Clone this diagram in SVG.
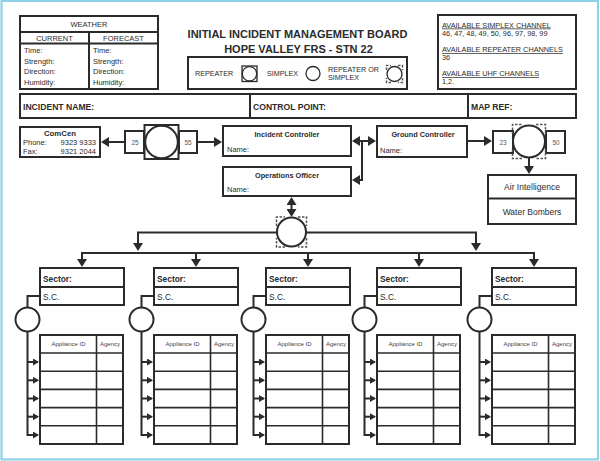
<svg xmlns="http://www.w3.org/2000/svg" width="600" height="461" viewBox="0 0 600 461">
<style>
.b{fill:#fff;stroke:#2b2b2b;stroke-width:2}
.l{fill:none;stroke:#2b2b2b;stroke-width:2}
.tl{fill:none;stroke:#2b2b2b;stroke-width:1.6}
.dc{fill:none;stroke:#555;stroke-width:1.5;stroke-dasharray:2.5 1.5}
text{font-family:'Liberation Sans',Arial,sans-serif;fill:#2b2b2b}
.bd{font-weight:bold}
.s75{font-size:7.5px}
.s7{font-size:7.3px}
.s6{font-size:6px;fill:#444}
.sn{font-size:6.5px;fill:#555}
.m{text-anchor:middle}
.a{marker-end:url(#ah)}
.aa{marker-start:url(#ah);marker-end:url(#ah)}
.as{marker-end:url(#ahs)}
</style>
<defs>
<marker id="ah" viewBox="0 0 8 10" refX="6" refY="5" markerWidth="8" markerHeight="10" markerUnits="userSpaceOnUse" orient="auto-start-reverse"><path d="M0,0 L8,5 L0,10 z" fill="#2b2b2b"/></marker>
<marker id="ahs" viewBox="0 0 6 7" refX="4.5" refY="3.5" markerWidth="6" markerHeight="7" markerUnits="userSpaceOnUse" orient="auto"><path d="M0,0 L6,3.5 L0,7 z" fill="#2b2b2b"/></marker>
</defs>
<rect x="0" y="0" width="600" height="461" fill="#fff"/>
<rect x="1.5" y="0.9" width="596.5" height="458.5" fill="none" stroke="#8fd2e8" stroke-width="2.2"/>

<g id="connectors">
<line class="l a" x1="125" y1="142" x2="103" y2="142"/>
<line class="l a" x1="197" y1="142" x2="220" y2="142"/>
<line class="l aa" x1="354" y1="141" x2="374" y2="141"/>
<path class="l a" d="M362,141 V180 H354"/>
<line class="l a" x1="467" y1="141" x2="490" y2="141"/>
<line class="l a" x1="529" y1="158" x2="529" y2="172"/>
<line class="l aa" x1="291.5" y1="199" x2="291.5" y2="215"/>
<line class="l" x1="137" y1="232.5" x2="477" y2="232.5"/>
<line class="l a" x1="138" y1="232.5" x2="138" y2="249"/>
<line class="l a" x1="476" y1="232.5" x2="476" y2="249"/>
<line class="l" x1="81" y1="253" x2="535" y2="253"/>
<line class="l a" x1="82" y1="253" x2="82" y2="265"/>
<line class="l a" x1="196" y1="253" x2="196" y2="265"/>
<line class="l a" x1="308" y1="253" x2="308" y2="265"/>
<line class="l a" x1="419" y1="253" x2="419" y2="265"/>
<line class="l a" x1="534" y1="253" x2="534" y2="265"/>
<g id="sector-links">
<g id="sl1">
<path class="l" d="M40,296 H27.5 V308"/>
<path class="l as" d="M27.5,331 V435 H37.5"/>
<line class="l as" x1="27.5" y1="362" x2="37.5" y2="362"/>
<line class="l as" x1="27.5" y1="380.3" x2="37.5" y2="380.3"/>
<line class="l as" x1="27.5" y1="398.5" x2="37.5" y2="398.5"/>
<line class="l as" x1="27.5" y1="416.7" x2="37.5" y2="416.7"/>
</g>
<use href="#sl1" transform="translate(114,0)"/>
<use href="#sl1" transform="translate(226,0)"/>
<use href="#sl1" transform="translate(337,0)"/>
<use href="#sl1" transform="translate(452,0)"/>
</g>
</g>

<g id="weather">
<rect class="b" x="20" y="16" width="138" height="73"/>
<path class="l" d="M20,32 H158 M20,43.5 H158 M89,32 V89"/>
<text class="s75 m" x="89" y="27">WEATHER</text>
<text class="s75 m" x="54.5" y="40.5">CURRENT</text>
<text class="s75 m" x="123.5" y="40.5">FORECAST</text>
<text class="s75" x="24" y="53">Time:</text>
<text class="s75" x="24" y="63.5">Strength:</text>
<text class="s75" x="24" y="74">Direction:</text>
<text class="s75" x="24" y="84.5">Humidity:</text>
<text class="s75" x="93" y="53">Time:</text>
<text class="s75" x="93" y="63.5">Strength:</text>
<text class="s75" x="93" y="74">Direction:</text>
<text class="s75" x="93" y="84.5">Humidity:</text>
</g>

<g id="title">
<text class="bd m" x="297.5" y="38" font-size="11">INITIAL INCIDENT MANAGEMENT BOARD</text>
<text class="bd m" x="298.5" y="52.5" font-size="11">HOPE VALLEY FRS - STN 22</text>
</g>

<g id="legend">
<rect class="b" x="188" y="57" width="219" height="32"/>
<text x="195" y="76" font-size="7.2">REPEATER</text>
<rect x="242" y="66" width="15" height="15.5" fill="#fff" stroke="#2b2b2b" stroke-width="1.3"/>
<circle cx="249.5" cy="73.75" r="7.2" fill="#fff" stroke="#2b2b2b" stroke-width="1.3"/>
<text x="267" y="76" font-size="7.2">SIMPLEX</text>
<circle cx="313" cy="73.5" r="7" fill="#fff" stroke="#2b2b2b" stroke-width="1.3"/>
<text x="328" y="71.5" font-size="7.2">REPEATER OR</text>
<text x="328" y="80" font-size="7.2">SIMPLEX</text>
<path class="dc" stroke-width="1.2" d="M386.5,70 V65.5 H391 M398,65.5 H402.5 V70 M402.5,78 V82.5 H398 M391,82.5 H386.5 V78"/>
<circle cx="394.5" cy="74" r="7.5" fill="#fff" stroke="#2b2b2b" stroke-width="1.3"/>
</g>

<g id="channels">
<rect class="b" x="438" y="15" width="138" height="74"/>
<text class="s7" x="442" y="27.5" text-decoration="underline">AVAILABLE SIMPLEX CHANNEL</text>
<text class="s7" x="442" y="36">46, 47, 48, 49, 50, 96, 97, 98, 99</text>
<text class="s7" x="442" y="52" text-decoration="underline">AVAILABLE REPEATER CHANNELS</text>
<text class="s7" x="442" y="60">36</text>
<text class="s7" x="442" y="76" text-decoration="underline">AVAILABLE UHF CHANNELS</text>
<text class="s7" x="442" y="84">1,2.</text>
</g>

<g id="info-row">
<rect class="b" x="20" y="94" width="556" height="24"/>
<path class="l" d="M250,94 V118 M468,94 V118"/>
<text class="bd" x="23" y="110" font-size="8.6">INCIDENT NAME:</text>
<text class="bd" x="253" y="110" font-size="8.6">CONTROL POINT:</text>
<text class="bd" x="471" y="110" font-size="8.6">MAP REF:</text>
</g>

<g id="comcen">
<rect class="b" x="20" y="127" width="80" height="30"/>
<text class="bd m" x="60" y="135.5" font-size="7.8">ComCen</text>
<text class="s75" x="23" y="144.5">Phone:</text>
<text class="s75" x="96" y="144.5" text-anchor="end">9323 9333</text>
<text class="s75" x="23" y="153.5">Fax:</text>
<text class="s75" x="96" y="153.5" text-anchor="end">9321 2044</text>
</g>

<g id="repeater-left">
<rect class="b" x="125" y="131" width="19" height="22"/>
<rect class="b" x="179" y="131" width="18" height="22"/>
<text class="sn m" x="135" y="144.5">25</text>
<text class="sn m" x="188" y="144.5">55</text>
<rect class="b" x="144.5" y="125" width="34" height="34"/>
<circle class="b" cx="161.5" cy="142" r="16.3"/>
</g>

<g id="incident-controller">
<rect class="b" x="223" y="126" width="128" height="30"/>
<text class="bd m" x="287" y="137" font-size="7.3">Incident Controller</text>
<text class="s75" x="227" y="152">Name:</text>
</g>

<g id="operations-officer">
<rect class="b" x="223" y="167" width="128" height="29"/>
<text class="bd m" x="287" y="177.5" font-size="7.3">Operations Officer</text>
<text class="s75" x="227" y="192">Name:</text>
</g>

<g id="ground-controller">
<rect class="b" x="377" y="126" width="90" height="31"/>
<text class="bd m" x="423" y="137" font-size="7.3">Ground Controller</text>
<text class="s75" x="380" y="153">Name:</text>
</g>

<g id="repeater-right">
<rect class="b" x="493" y="131" width="20" height="22"/>
<rect class="b" x="546" y="131" width="19" height="22"/>
<text class="sn m" x="503" y="144.5">23</text>
<text class="sn m" x="556" y="144.5">50</text>
<path class="dc" d="M512.5,134 V124.5 H522 M536,124.5 H545.5 V134 M545.5,149 V158.5 H536 M522,158.5 H512.5 V149"/>
<circle class="b" cx="529" cy="141.5" r="16"/>
</g>

<g id="air-support">
<rect class="b" x="488" y="175" width="88" height="49"/>
<line class="l" x1="488" y1="198.5" x2="576" y2="198.5"/>
<text class="m" x="532" y="190" font-size="8.5">Air Intelligence</text>
<text class="m" x="532" y="214.5" font-size="8.5">Water Bombers</text>
</g>

<g id="central-repeater">
<path class="dc" d="M276.5,226 V217 H285 M298,217 H306.5 V226 M306.5,238 V247 H298 M285,247 H276.5 V238"/>
<circle class="b" cx="291.5" cy="232" r="14.5"/>
</g>

<g id="sector-1">
<rect class="b" x="40" y="268" width="84" height="37"/>
<line class="l" x1="40" y1="287" x2="124" y2="287"/>
<text class="bd" x="43" y="281.5" font-size="8.4">Sector:</text>
<text x="43" y="299.5" font-size="8.4">S.C.</text>
<circle class="b" cx="27.5" cy="319.5" r="12"/>
<rect class="b" x="40" y="335" width="83" height="109"/>
<path class="tl" d="M40,353 H123 M40,371.2 H123 M40,389.4 H123 M40,407.6 H123 M40,425.8 H123 M96.5,335 V444"/>
<text class="s6 m" x="68.5" y="346">Appliance ID</text>
<text class="s6 m" x="110" y="346">Agency</text>
</g>
<use id="sector-2" href="#sector-1" transform="translate(114,0)"/>
<use id="sector-3" href="#sector-1" transform="translate(226,0)"/>
<use id="sector-4" href="#sector-1" transform="translate(337,0)"/>
<use id="sector-5" href="#sector-1" transform="translate(452,0)"/>
</svg>
